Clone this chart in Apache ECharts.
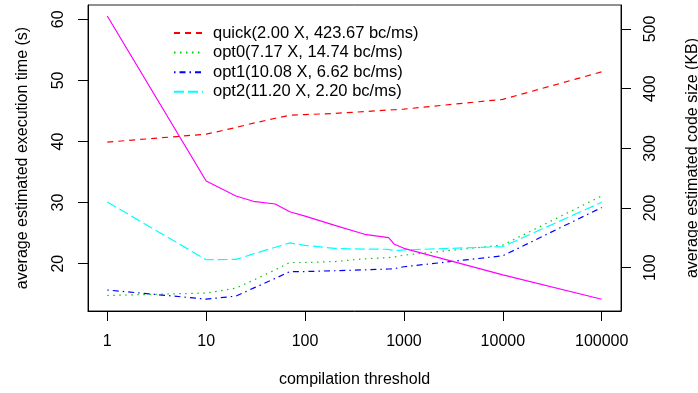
<!DOCTYPE html>
<html>
<head>
<meta charset="utf-8">
<script src="https://cdn.jsdelivr.net/npm/echarts@6/dist/echarts.min.js"></script>
<style>
html,body{margin:0;padding:0;background:#fff;}
#c{width:698px;height:393px;}
</style>
</head>
<body>
<div id="c"></div>
<script>
const thresholds = [1, 10, 20, 30, 50, 70, 100, 200, 400, 700, 800, 1000, 10000, 100000];
const quick = [39.9, 41.2, 42.3, 43.0, 43.8, 44.3, 44.4, 44.6, 44.9, 45.15, 45.2, 45.3, 46.9, 51.4];
const opt0  = [14.8, 15.2, 16.0, 17.3, 19.0, 20.2, 20.2, 20.35, 20.8, 21.0, 21.1, 21.4, 23.06, 31.1];
const opt1  = [15.7, 14.2, 14.7, 16.0, 17.6, 18.7, 18.72, 18.85, 19.0, 19.13, 19.2, 19.5, 21.3, 29.2];
const opt2  = [30.1, 20.65, 20.7, 21.6, 22.7, 23.4, 23.0, 22.5, 22.4, 22.35, 22.1, 22.25, 22.8, 30.05];
const codeSize = [521.7, 245.3, 220.1, 211.3, 206.7, 193.8, 186.5, 170.9, 156.0, 150.3, 139.2, 132.5, 88.0, 47.1];

const seriesNames = ['quick(2.00 X, 423.67 bc/ms)', 'opt0(7.17 X, 14.74 bc/ms)', 'opt1(10.08 X, 6.62 bc/ms)', 'opt2(11.20 X, 2.20 bc/ms)'];
const xTicks = [1, 10, 100, 1000, 10000, 100000];
const leftTicks = [20, 30, 40, 50, 60];
const rightTicks = [100, 200, 300, 400, 500];

const FONT = 'Liberation Sans, Arial, Helvetica, sans-serif';
const FS = 16;
const pair = arr => thresholds.map((t, i) => [t, arr[i]]);

const chart = echarts.init(document.getElementById('c'), null, {renderer: 'canvas'});
const axisCommon = {
  axisLine: {show: true, lineStyle: {color: '#000', width: 1}},
  axisTick: {show: true, inside: false, length: 10, lineStyle: {color: '#000', width: 1}},
  splitLine: {show: false},
  nameTextStyle: {fontFamily: FONT, fontSize: FS, color: '#000'}
};
chart.setOption({
  animation: false,
  backgroundColor: '#fff',
  grid: {left: 88, right: 77, top: 5, bottom: 82, show: true, borderColor: '#222', borderWidth: 1,
         containLabel: false, outerBoundsMode: 'none'},
  legend: {
    data: seriesNames,
    orient: 'vertical',
    left: 168, top: 19.5,
    itemWidth: 29, itemHeight: 14, itemGap: 2.6,
    itemStyle: {opacity: 0, borderWidth: 0},
    textStyle: {fontFamily: FONT, fontSize: 16.5, lineHeight: 16, color: '#000', padding: [0, 0, 0, 5]}
  },
  xAxis: Object.assign({}, axisCommon, {
    type: 'log', logBase: 10,
    min: Math.pow(10, -0.195), max: Math.pow(10, 5.195),
    name: 'compilation threshold', nameLocation: 'middle', nameGap: 61,
    axisTick: Object.assign({}, axisCommon.axisTick, {customValues: xTicks}),
    axisLabel: {customValues: xTicks, margin: 23, fontFamily: FONT, fontSize: FS, color: '#000', formatter: v => String(Math.round(v))}
  }),
  yAxis: [
    Object.assign({}, axisCommon, {
      type: 'value', position: 'left', min: 12.26, max: 62.34,
      name: 'average estimated execution time (s)', nameLocation: 'middle', nameGap: 57, nameRotate: 90,
      axisTick: Object.assign({}, axisCommon.axisTick, {customValues: leftTicks}),
      axisLabel: {customValues: leftTicks, rotate: 90, margin: 21, fontFamily: FONT, fontSize: FS, color: '#000'}
    }),
    Object.assign({}, axisCommon, {
      type: 'value', position: 'right', min: 27.45, max: 540.2,
      name: 'average estimated code size (KB)', nameLocation: 'middle', nameGap: 64, nameRotate: 90,
      axisTick: Object.assign({}, axisCommon.axisTick, {customValues: rightTicks}),
      axisLabel: {customValues: rightTicks, rotate: 90, margin: 22, fontFamily: FONT, fontSize: FS, color: '#000'}
    })
  ],
  series: [
    {name: seriesNames[0], type: 'line', yAxisIndex: 0, data: pair(quick), symbol: 'none', color: '#FF0000',
     lineStyle: {color: '#FF0000', width: 1.2, type: [6, 5]}},
    {name: seriesNames[1], type: 'line', yAxisIndex: 0, data: pair(opt0), symbol: 'none', color: '#00CD00',
     lineStyle: {color: '#00CD00', width: 1.2, type: [1.5, 4.5]}},
    {name: seriesNames[2], type: 'line', yAxisIndex: 0, data: pair(opt1), symbol: 'none', color: '#0000FF',
     lineStyle: {color: '#0000FF', width: 1.2, type: [1.5, 4, 6, 4]}},
    {name: seriesNames[3], type: 'line', yAxisIndex: 0, data: pair(opt2), symbol: 'none', color: '#00FFFF',
     lineStyle: {color: '#00FFFF', width: 1.2, type: [10, 4]}},
    {name: 'code size', type: 'line', yAxisIndex: 1, data: pair(codeSize), symbol: 'none', color: '#FF00FF',
     lineStyle: {color: '#FF00FF', width: 1.2, type: 'solid'}}
  ]
});
</script>
</body>
</html>
